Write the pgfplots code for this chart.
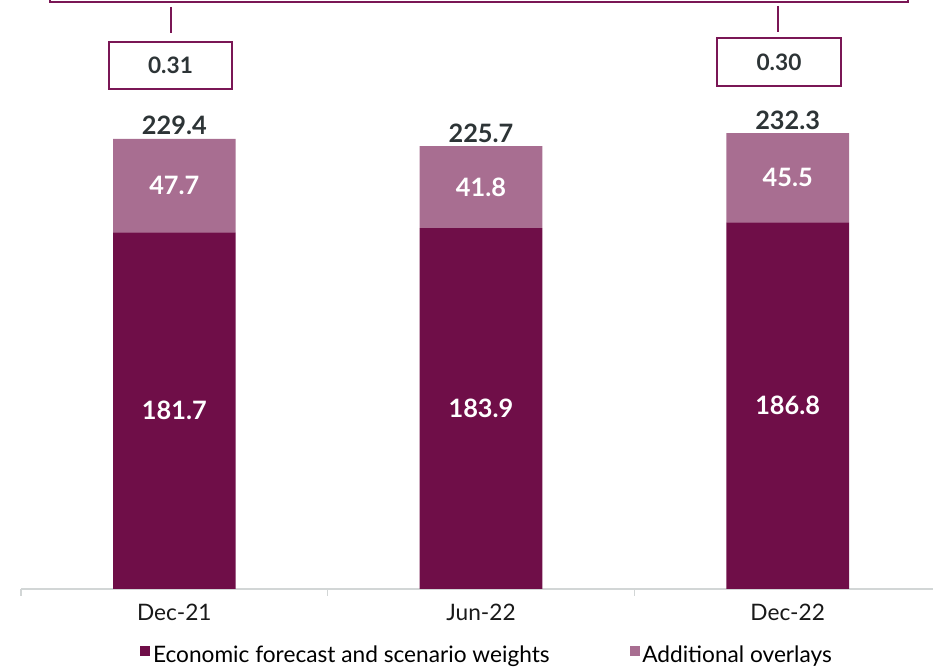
\documentclass[border=0pt]{standalone}
\usepackage{pgfplots}
\pgfplotsset{compat=1.18}
\usepackage{pgfplotstable}
\usepackage{fontspec}
\setmainfont{Lato}
\definecolor{darkp}{RGB}{111,14,72}
\definecolor{lightp}{RGB}{168,110,145}
\definecolor{linep}{RGB}{122,22,85}
\definecolor{txt}{RGB}{45,52,54}
\definecolor{axg}{RGB}{210,214,214}
\pgfplotstableread{
x econ overlay total
0 181.7 47.7 229.4
1 183.9 41.8 225.7
2 186.8 45.5 232.3
}\data
\pgfplotsset{
  common/.style={
    at={(15.75pt,58.5pt)}, anchor=south west,
    scale only axis, width=690pt, height=441.45pt,
    xmin=-0.5, xmax=2.5, ymin=0, ymax=300,
    bar width=0.4, clip=false,
    nodes near coords={\pgfmathprintnumber[fixed,fixed zerofill,precision=1,assume math mode=true]{\pgfplotspointmeta}},
  },
  seglabel/.style={
    point meta=explicit,
    visualization depends on={\thisrow{#1}/2\as\q},
    every node near coord/.style={anchor=center, text=white,
      font=\bfseries\fontsize{19}{19}\selectfont,
      shift={(axis direction cs:0,-\q)}},
  },
}
\begin{document}
\begin{tikzpicture}
\begin{axis}[common,
  ybar stacked,
  axis y line=none,
  axis x line*=bottom,
  axis line style={axg, line width=1pt},
  xtick={0,1,2},
  xticklabels={Dec-21,Jun-22,Dec-22},
  major tick length=0pt,
  extra x ticks={-0.5,0.5,1.5,2.5},
  extra x tick labels={},
  extra x tick style={major tick length=5pt, tick align=outside, tick style={axg, line width=1pt}},
  xticklabel style={font=\fontsize{17}{17}\selectfont, text=black!90, yshift=-8pt},
  legend style={at={(0.507,-0.112)}, anchor=center, draw=none, fill=none,
     font=\fontsize{17}{17}\selectfont, legend columns=2,
     /tikz/every even column/.append style={column sep=58pt}},
  legend image code/.code={\fill[#1,draw=none] (0pt,-1pt) rectangle (7.5pt,6.5pt);},
]
\addplot[fill=darkp, draw=none, seglabel=econ] table[x=x,y=econ,meta=econ]{\data};
\addplot[fill=lightp, draw=none, seglabel=overlay] table[x=x,y=overlay,meta=overlay]{\data};
\legend{Economic forecast and scenario weights, Additional overlays}
\end{axis}
\begin{axis}[common, ybar, hide axis]
\addplot[draw=none, fill=none, point meta=explicit,
  every node near coord/.style={anchor=base, text=txt, font=\bfseries\fontsize{19}{19}\selectfont, yshift=3pt}]
  table[x=x,y=total,meta=total]{\data};
\end{axis}
\begin{scope}[x=0.75pt,y=-0.75pt,shift={(0pt,500.25pt)}]
\draw[linep, line width=2.2pt] (50,-20) -- (50,2) -- (908,2) -- (908,-20);
\draw[linep, line width=2.2pt] (171,7) -- (171,33);
\draw[linep, line width=2.2pt] (778,6) -- (778,32);
\draw[linep, line width=1.6pt, fill=white] (109,42) rectangle (232,89);
\node[text=txt, font=\bfseries\fontsize{17}{17}\selectfont] at (170.5,65.5) {0.31};
\draw[linep, line width=1.6pt, fill=white] (717,38) rectangle (841,86);
\node[text=txt, font=\bfseries\fontsize{17}{17}\selectfont] at (779,62) {0.30};
\end{scope}
\pgfresetboundingbox
\useasboundingbox (0,0) rectangle (699.75pt,500.25pt);
\end{tikzpicture}
\end{document}
